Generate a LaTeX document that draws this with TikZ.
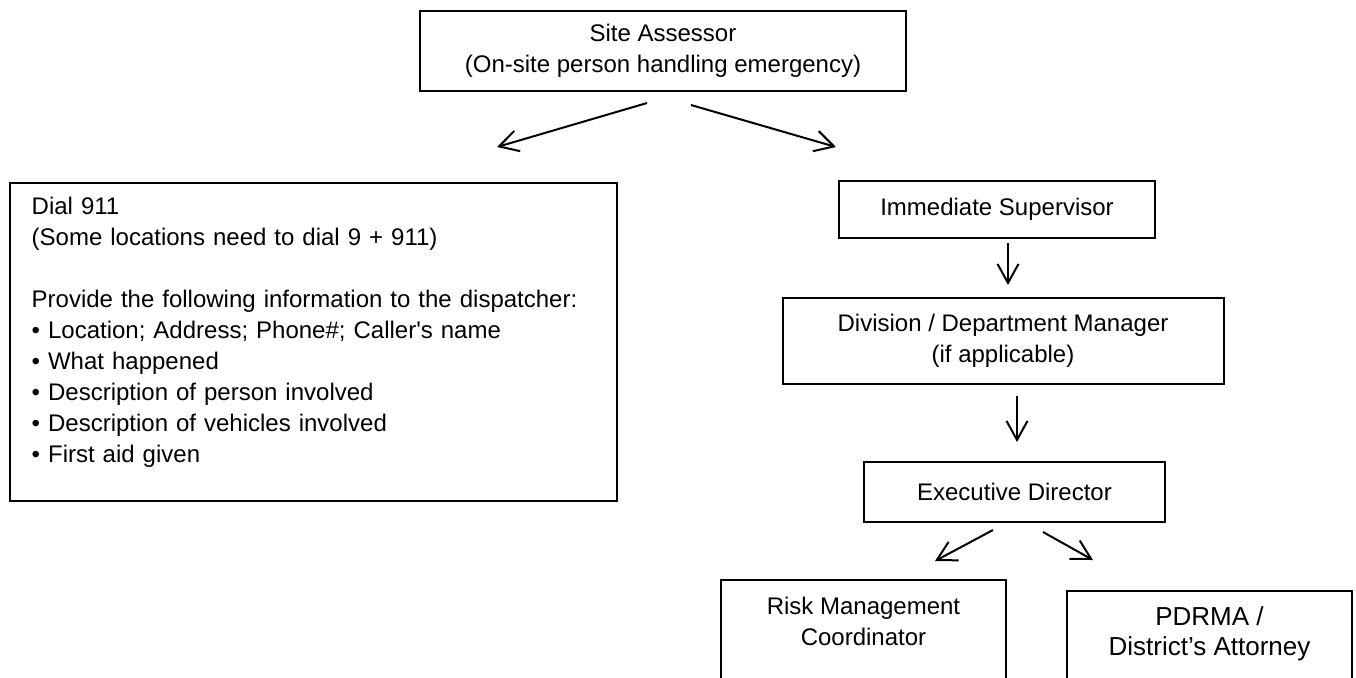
\documentclass[tikz,border=0pt]{standalone}
\usepackage{fontspec}
\setmainfont{Liberation Sans}
\usetikzlibrary{arrows.meta}
\begin{document}
\begin{tikzpicture}[x=0.5pt,y=-0.5pt,
box/.style={draw,rectangle,line width=1pt,inner sep=0pt,align=center,font=\fontsize{12}{15.75}\selectfont},
arr/.style={-{Straight Barb[length=9.5pt,width=10.5pt]},line width=1pt}]
\useasboundingbox[fill=white] (0,0) rectangle (1356,677);
% who gets called
\node[box,minimum width=243pt,minimum height=40pt] (site) at (663,51) {Site Assessor\\(On-site person handling emergency)};
\node[box,anchor=north west,align=left,text width=281.8pt,inner xsep=10.85pt,inner ysep=7.25pt,font=\fontsize{12}{15.5}\selectfont] (dial) at (9,182) {Dial 911\\(Some locations need to dial 9 + 911)\\[15.5pt]Provide the following information to the dispatcher:\\• Location; Address; Phone\#; Caller\textquotesingle s name\\• What happened\\• Description of person involved\\• Description of vehicles involved\\• First aid given\rule[-11.75pt]{0pt}{11.75pt}};
\node[box,minimum width=158pt,minimum height=28.5pt] (imm) at (997,209.5) {Immediate Supervisor};
\node[box,minimum width=220.5pt,minimum height=43pt] (div) at (1003,341) {Division / Department Manager\\(if applicable)};
\node[box,minimum width=150.5pt,minimum height=30pt] (exec) at (1014.5,492) {Executive Director};
\node[box,anchor=north,minimum width=142.5pt,inner ysep=8.5pt] (risk) at (863.5,579) {Risk Management\\Coordinator\rule[-30pt]{0pt}{30pt}};
\node[box,anchor=north,minimum width=142.5pt,inner ysep=8pt,font=\fontsize{13}{15}\selectfont] (pdrma) at (1209.5,590) {PDRMA /\\District’s Attorney\rule[-30pt]{0pt}{30pt}};
% arrows
\coordinate (s1) at (647,103); \coordinate (e1) at (497,147);
\coordinate (s2) at (691,105); \coordinate (e2) at (836,147);
\coordinate (s3) at (1008,243); \coordinate (e3) at (1008,285);
\coordinate (s4) at (1017,396); \coordinate (e4) at (1017,442);
\coordinate (s5) at (993,530); \coordinate (e5) at (935,561);
\coordinate (s6) at (1043,532); \coordinate (e6) at (1093,560);
\draw[arr] (s1) -- (e1);
\draw[arr] (s2) -- (e2);
\draw[arr] (s3) -- (e3);
\draw[arr] (s4) -- (e4);
\draw[arr] (s5) -- (e5);
\draw[arr] (s6) -- (e6);
\end{tikzpicture}
\end{document}
